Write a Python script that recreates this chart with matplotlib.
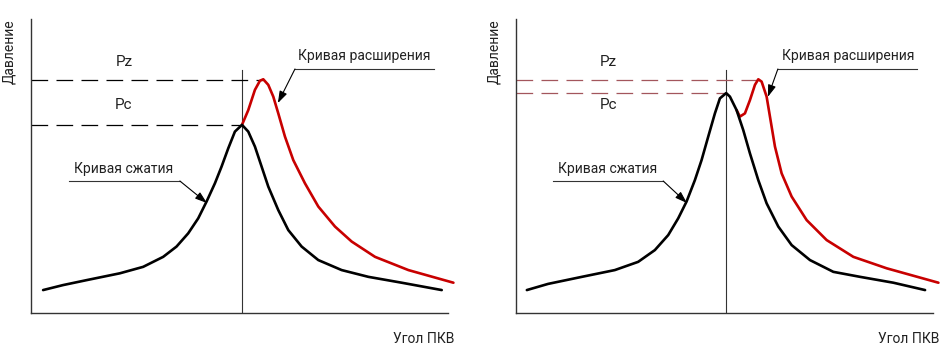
import matplotlib.pyplot as plt

plt.rcParams['font.family'] = ['Roboto', 'DejaVu Sans']
plt.rcParams['lines.scale_dashes'] = False

# ---- левая диаграмма ----
x_comp_1 = [2.9, 7.7, 13.4, 21.3, 26.9, 31.7, 34.9, 37.7, 40.1, 42.1, 44.1, 45.7, 47.3, 48.9, 50.6,
            52.1, 53.7, 55.3, 56.9, 59.3, 61.7, 64.9, 68.9, 74.5, 80.9, 88.9, 98.5]
p_comp_1 = [7.8, 9.5, 11.2, 13.5, 15.7, 19.1, 22.6, 27.1, 32.2, 37.9, 44.1, 49.8, 56.0, 61.7, 64.0,
            61.7, 56.6, 49.8, 43.0, 35.0, 28.2, 22.6, 18.0, 14.6, 12.3, 10.3, 7.8]
x_exp_1 = [50.6, 52.1, 53.7, 54.9, 55.7, 56.9, 58.1, 59.3, 60.9, 62.9, 65.7, 68.9,
           72.9, 76.9, 82.5, 90.5, 101.3]
p_exp_1 = [64.0, 69.0, 75.9, 79.0, 79.5, 77.6, 73.6, 67.9, 60.0, 52.0, 44.1, 36.2,
           29.4, 24.3, 19.1, 14.6, 10.3]
tdc_1 = 50.6
pz_1, pz_x_1 = 79.3, 55.7
pc_1 = 64.0

# ---- правая диаграмма ----
x_comp_2 = [2.6, 7.7, 15.8, 23.7, 29.3, 33.3, 36.5, 38.9, 40.9, 42.9, 44.5, 46.1, 47.7, 48.9, 50.4,
            51.3, 52.9, 54.5, 56.1, 58.1, 60.1, 62.9, 66.1, 70.5, 76.1, 82.5, 90.5, 98.1]
p_comp_2 = [7.8, 9.9, 12.3, 14.6, 17.4, 21.4, 26.5, 32.2, 37.9, 45.2, 52.0, 60.0, 67.9, 73.0, 74.8,
            73.6, 69.0, 62.2, 54.3, 45.2, 37.3, 29.4, 23.1, 18.0, 14.0, 12.3, 10.3, 7.8]
x_exp_2 = [52.9, 53.7, 54.9, 56.1, 57.3, 58.1, 58.9, 60.1, 60.9, 62.1, 63.7, 66.1,
           69.7, 74.5, 80.9, 88.9, 101.3]
p_exp_2 = [69.0, 66.8, 67.9, 72.4, 77.6, 79.5, 78.7, 73.6, 66.8, 56.6, 47.5, 39.6,
           31.6, 24.8, 19.1, 15.2, 10.3]
tdc_2 = 50.4
pz_2, pz_x_2 = 79.3, 58.1
pc_2 = 74.8

panels = [
    dict(left=31, xc=x_comp_1, pc_=p_comp_1, xe=x_exp_1, pe=p_exp_1, tdc=tdc_1,
         pz=pz_1, pzx=pz_x_1, pc=pc_1, dash='black',
         exp_lead=(63.3, 96.6, 59.2, 71.4), exp_txt=79.9,
         comp_lead=(9.1, 35.7, 42.2, 37.4), comp_txt=22.3, lbl_x=22.3),
    dict(left=516, xc=x_comp_2, pc_=p_comp_2, xe=x_exp_2, pe=p_exp_2, tdc=tdc_2,
         pz=pz_2, pzx=pz_x_2, pc=pc_2, dash='#a3565c',
         exp_lead=(62.8, 96.2, 60.4, 73.5), exp_txt=79.6,
         comp_lead=(8.9, 35.3, 41.0, 37.4), comp_txt=21.9, lbl_x=22.1),
]

W, H = 943, 348
fig = plt.figure(figsize=(W / 100, H / 100), dpi=100)
txt = dict(fontsize=10, color='#222222')

for pn in panels:
    ax = fig.add_axes([pn['left'] / W, 35 / H, 417 / W, 294 / H])
    ax.set_xlim(0, 100)
    ax.set_ylim(0, 100)
    for s in ['top', 'right']:
        ax.spines[s].set_visible(False)
    for s in ['left', 'bottom']:
        ax.spines[s].set_linewidth(1.0)
        ax.spines[s].set_color('#333333')
    ax.set_xticks([])
    ax.set_yticks([])

    # ВМТ
    ax.plot([pn['tdc'], pn['tdc']], [0, 82.7], color='#333333', lw=0.8)
    # Pz, Pc
    ax.plot([0, pn['pzx']], [pn['pz'], pn['pz']], color=pn['dash'], lw=0.9, dashes=(12, 6))
    ax.plot([0, pn['tdc']], [pn['pc'], pn['pc']], color=pn['dash'], lw=0.9, dashes=(12, 6))
    ax.text(pn['lbl_x'], 83.0, 'Pz', ha='center', va='bottom', fontsize=11, color='#222222')
    ax.text(pn['lbl_x'], 70.7, 'Pc', ha='center', va='center', fontsize=11, color='#222222')

    # кривые
    ax.plot(pn['xe'], pn['pe'], color='#c80000', lw=1.9, solid_joinstyle='round',
            solid_capstyle='round', clip_on=False)
    ax.plot(pn['xc'], pn['pc_'], color='black', lw=1.9, solid_joinstyle='round',
            solid_capstyle='round', clip_on=False)

    # выноски
    x0, x1, tx, ty = pn['exp_lead']
    ax.plot([x0, x1], [83.0, 83.0], color='#333333', lw=0.8, clip_on=False)
    ax.annotate('', xy=(tx, ty), xytext=(x0, 83.0),
                arrowprops=dict(arrowstyle='-|>,head_length=0.6,head_width=0.2', lw=0.8,
                                color='black', mutation_scale=12, shrinkA=0, shrinkB=0))
    ax.text(pn['exp_txt'], 85.0, 'Кривая расширения', ha='center', va='bottom', **txt)

    x0, x1, tx, ty = pn['comp_lead']
    ax.plot([x0, x1], [44.9, 44.9], color='#333333', lw=0.8)
    ax.annotate('', xy=(tx, ty), xytext=(x1, 44.9),
                arrowprops=dict(arrowstyle='-|>,head_length=0.6,head_width=0.2', lw=0.8,
                                color='black', mutation_scale=12, shrinkA=0, shrinkB=0))
    ax.text(pn['comp_txt'], 46.5, 'Кривая сжатия', ha='center', va='bottom', **txt)

    ax.text(-0.052, 1.0, 'Давление', transform=ax.transAxes, rotation=90,
            ha='center', va='top', **txt)
    ax.text(1.015, -0.065, 'Угол ПКВ', transform=ax.transAxes, ha='right', va='top', **txt)

fig.savefig('out.png', dpi=100)
